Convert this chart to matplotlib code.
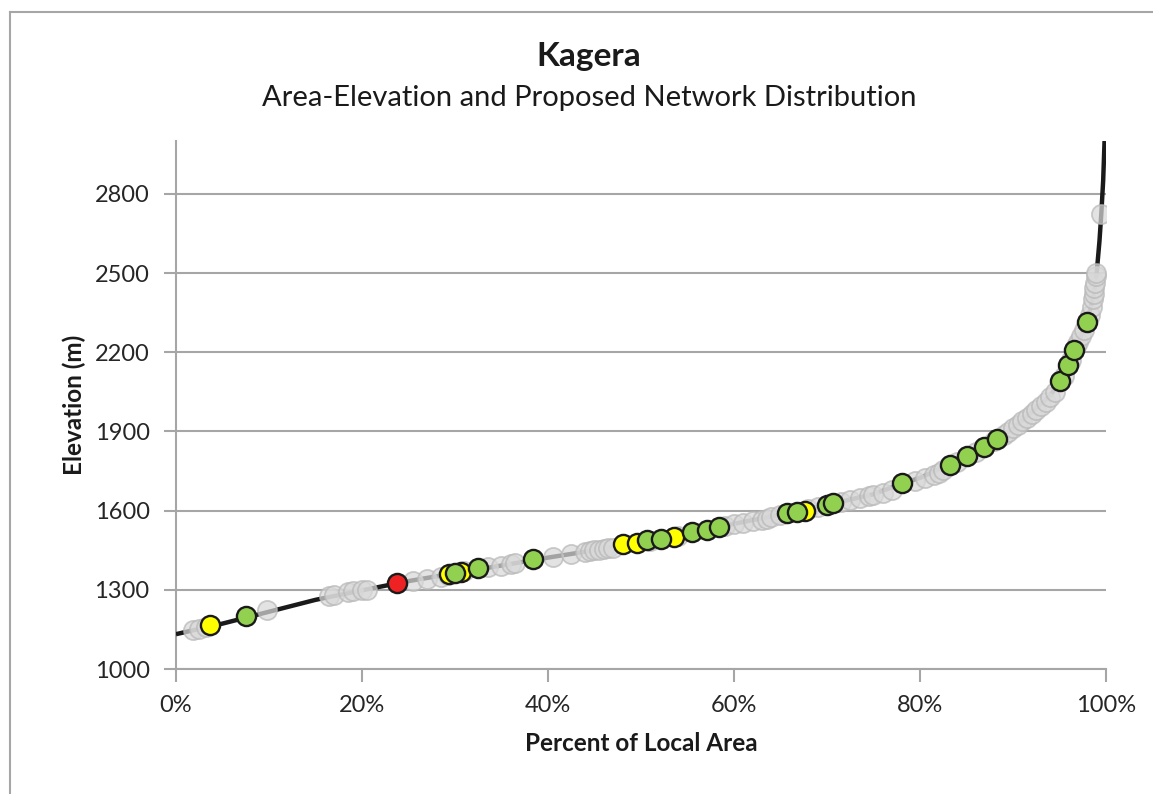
import numpy as np
import matplotlib
matplotlib.use('Agg')
from matplotlib import pyplot as plt
from matplotlib.lines import Line2D
from matplotlib.ticker import FuncFormatter

plt.rcParams['font.family'] = ['Lato', 'DejaVu Sans']

# area-elevation curve (percent of local area vs elevation, m)
curve_pct = [0, 2, 5, 10, 15, 20, 25, 30, 35, 40, 45, 50, 55, 60, 65, 70, 75,
             78, 80, 83, 85, 87, 88.4, 90, 92, 94, 95, 96, 97, 98, 98.7, 99.0,
             99.3, 99.5, 99.7, 99.85]
curve_elev = [1132, 1148, 1172, 1217, 1262, 1298, 1333, 1363, 1392, 1422, 1450,
              1482, 1517, 1550, 1585, 1622, 1662, 1702, 1724, 1772, 1806, 1842,
              1870, 1912, 1972, 2035, 2088, 2155, 2235, 2318, 2420, 2500, 2620,
              2725, 2850, 3000]

# all existing sites
site_pct = [1.8, 2.5, 3.2, 9.8, 16.5, 17.0, 18.5, 19.0, 20.0, 20.5, 25.5, 27.0,
            28.5, 29.3, 31.0, 33.5, 35.0, 36.0, 36.5, 40.5, 42.5, 44.0, 44.5,
            45.0, 45.5, 46.0, 46.5, 47.0, 51.0, 54.0, 59.0, 60.0, 61.0, 62.0,
            63.0, 63.5, 64.0, 65.0, 68.0, 69.0, 71.5, 72.5, 73.5, 74.5, 75.0,
            76.0, 77.0, 79.5, 80.5, 81.5, 82.0, 82.5, 84.0, 86.0, 88.0, 89.0,
            89.5, 90.0, 90.5, 91.0, 91.5, 92.0, 92.5, 93.0, 93.5, 94.0, 94.5,
            95.5, 96.2, 96.8, 97.0, 97.3, 97.6, 98.3, 98.5, 98.6, 98.7, 98.75,
            98.8, 98.9, 98.95, 99.5]
site_elev = [1146, 1152, 1158, 1224, 1278, 1282, 1292, 1294, 1298, 1300, 1335,
             1342, 1350, 1356, 1370, 1385, 1392, 1398, 1400, 1425, 1436, 1445,
             1447, 1450, 1452, 1455, 1457, 1460, 1486, 1505, 1542, 1550, 1555,
             1560, 1566, 1570, 1575, 1582, 1606, 1613, 1633, 1640, 1648, 1655,
             1660, 1668, 1680, 1712, 1724, 1736, 1743, 1752, 1785, 1822, 1862,
             1885, 1897, 1912, 1925, 1938, 1950, 1965, 1980, 1995, 2012, 2030,
             2050, 2110, 2170, 2225, 2240, 2262, 2285, 2340, 2370, 2400, 2420,
             2445, 2462, 2488, 2500, 2725]

# proposed network, by status
yellow_pct = [3.7, 29.4, 30.7, 48.1, 49.6, 53.5, 67.6]
yellow_elev = [1167, 1360, 1368, 1474, 1477, 1500, 1599]

green_pct = [7.5, 30.0, 32.5, 38.4, 50.6, 52.2, 55.5, 57.1, 58.4, 65.7, 66.8,
             70.0, 70.6, 78.1, 83.2, 85.1, 86.9, 88.3, 95.1, 95.9, 96.6, 98.0]
green_elev = [1200, 1363, 1382, 1417, 1489, 1493, 1519, 1527, 1538, 1591, 1595,
              1622, 1629, 1705, 1773, 1807, 1841, 1872, 2090, 2152, 2209, 2315]

red_pct = [23.8]
red_elev = [1326]

grey = '#a6a6a6'
fig = plt.figure(figsize=(11.53, 7.94), dpi=100)
ax = fig.add_axes([0.1526, 0.1574, 0.8066, 0.665])

# chart border (top and left edges only)
fig.add_artist(Line2D([0.0087, 1.0], [0.9849, 0.9849], color=grey, lw=1.5,
                      transform=fig.transFigure))
fig.add_artist(Line2D([0.0087, 0.0087], [0.0, 0.9849], color=grey, lw=1.5,
                      transform=fig.transFigure))

ax.plot(curve_pct, curve_elev, color='#1a1a1a', lw=3.2, zorder=3,
        solid_capstyle='butt')
ax.scatter(site_pct, site_elev, s=190, facecolor='#d9d9d9', edgecolor='#b8b8b8',
           linewidths=1.3, alpha=0.72, zorder=4)
edge = '#1a1a1a'
ax.scatter(yellow_pct, yellow_elev, s=190, facecolor='#ffff00', edgecolor=edge,
           linewidths=1.7, zorder=5)
ax.scatter(green_pct, green_elev, s=190, facecolor='#92d050', edgecolor=edge,
           linewidths=1.7, zorder=6)
ax.scatter(red_pct, red_elev, s=190, facecolor='#ee2222', edgecolor=edge,
           linewidths=1.7, zorder=6)

ax.set_xlim(0, 100)
ax.set_ylim(1000, 3000)
ax.set_xticks(np.arange(0, 101, 20))
ax.set_yticks(np.arange(1000, 2801, 300))
ax.xaxis.set_major_formatter(FuncFormatter(lambda v, p: f'{v:.0f}%'))
ax.grid(axis='y', color=grey, lw=1.5)
ax.set_axisbelow(True)
for s in ['top', 'right']:
    ax.spines[s].set_visible(False)
for s in ['left', 'bottom']:
    ax.spines[s].set_color(grey)
    ax.spines[s].set_linewidth(1.5)
ax.tick_params(colors=grey, labelcolor='#262626', labelsize=17, length=9,
               width=1.5)
ax.tick_params(axis='y', pad=10)
ax.tick_params(axis='x', pad=10)

fig.text(0.511, 0.929, 'Kagera', ha='center', va='center', fontsize=24,
         fontweight='bold', color='#1a1a1a')
fig.text(0.511, 0.8766, 'Area-Elevation and Proposed Network Distribution',
         ha='center', va='center', fontsize=21, color='#1a1a1a')
fig.text(0.556, 0.0642, 'Percent of Local Area', ha='center', va='center',
         fontsize=17.5, fontweight='bold', color='#1a1a1a')
fig.text(0.0642, 0.490, 'Elevation (m)', ha='center', va='center',
         rotation=90, fontsize=17.5, fontweight='bold', color='#1a1a1a')

fig.savefig('out.png', dpi=100)
